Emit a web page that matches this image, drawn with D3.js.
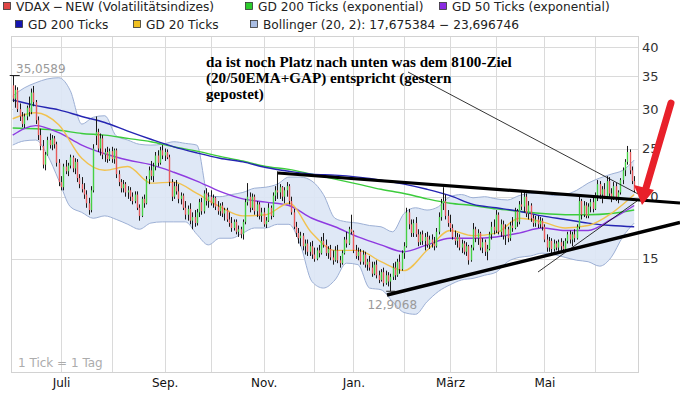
<!DOCTYPE html>
<html>
<head>
<meta charset="utf-8">
<script src="https://cdn.jsdelivr.net/npm/d3@7"></script>
<style>
body { margin: 0; background: #fff; }
svg { display: block; }
</style>
</head>
<body>
<svg width="680" height="398"></svg>
<script>
// daily candles, one row per trading day: [open, high, low, close]
var jun12 = [[33.5,35.06,31.0,31.5],[31.5,33.5,30.2,32.8],[32.8,33.2,29.6,30.0],[30.0,30.8,28.4,29.0],[29.0,29.6,27.6,28.0],
    [28.0,29.4,27.5,29.0],[29.0,30.5,28.5,30.2],[30.2,31.8,29.0,29.6],[29.6,33.0,29.3,32.4],[32.4,33.4,30.4,31.0],
    [31.0,31.3,28.0,28.5],[28.5,29.0,26.0,26.6],[26.6,27.4,24.8,25.3],[25.3,26.0,22.8,23.2],[23.2,24.6,22.6,24.3],
    [24.3,26.4,24.2,26.0],[26.0,26.8,25.0,25.4],[25.4,26.6,24.8,26.2],[26.2,26.5,25.0,25.5],[25.5,25.8,23.0,23.4],
    [23.4,23.8,21.0,21.4]]
var jul12 = [[21.4,22.0,20.6,20.9],[20.9,23.3,20.6,23.0],[23.0,23.7,22.2,22.5],[22.5,23.4,22.0,23.1],[23.1,24.3,22.8,24.0],
    [24.0,24.2,22.4,22.8],[22.8,23.9,22.2,23.5],[23.5,23.8,21.4,21.8],[21.8,22.2,20.8,21.2],[21.2,21.9,20.4,20.7],
    [20.7,21.3,19.8,20.2],[20.2,20.6,19.0,19.4],[19.4,19.9,18.4,18.8],[18.8,21.0,18.6,20.6],[20.6,25.5,20.4,25.0],
    [26.5,29.0,25.4,27.0],[27.0,27.4,24.6,25.0],[25.0,26.8,24.2,26.2],[26.2,26.6,23.8,24.3],[24.3,25.0,23.5,24.6],
    [24.6,25.2,23.4,23.8],[23.8,25.0,23.6,24.7]]
var aug12 = [[24.7,25.2,23.4,23.8],[23.8,25.0,23.3,24.8],[24.8,25.0,21.8,22.2],[22.2,22.6,21.0,21.4],[21.4,21.7,20.4,20.8],
    [20.8,21.6,20.4,21.2],[21.2,21.4,20.0,20.4],[20.4,21.0,19.8,20.6],[20.6,20.9,19.6,20.0],[20.0,20.4,19.3,19.6],
    [19.6,20.5,19.4,20.2],[20.2,20.5,18.8,19.0],[19.0,19.3,17.9,18.3],[18.3,20.0,18.2,19.8],[19.8,20.2,19.0,19.4],
    [19.4,22.0,19.3,21.7],[21.7,23.0,21.2,22.6],[22.6,23.6,21.6,22.0],[22.0,23.4,21.4,23.0],[23.0,24.6,22.6,24.2],
    [24.2,24.8,23.0,23.4],[23.4,25.2,23.2,24.8],[24.8,25.4,23.8,24.2]]
var sep12 = [[24.2,25.0,23.6,24.6],[24.6,24.9,23.8,24.0],[24.0,24.3,21.0,21.4],[21.4,21.7,19.6,20.0],[20.0,21.4,19.8,21.0],
    [21.0,21.6,20.2,20.5],[20.5,21.2,19.4,19.8],[19.8,20.4,19.3,20.1],[20.1,20.3,18.8,19.0],[19.0,19.6,18.0,18.4],
    [18.4,19.2,17.9,18.9],[18.9,19.4,17.6,17.9],[17.9,18.6,17.2,18.2],[18.2,18.8,17.4,17.7],[17.7,18.9,17.5,18.6],
    [18.6,19.8,18.2,19.5],[19.5,19.9,18.4,18.7],[18.7,20.6,18.5,20.3],[20.3,20.8,19.2,19.6],[19.6,20.4,19.0,20.0]]
var oct12 = [[20.0,20.6,19.2,19.4],[19.4,20.2,19.0,19.9],[19.9,20.0,18.8,19.1],[19.1,19.6,18.4,18.7],[18.7,19.4,18.3,19.2],
    [19.2,19.5,18.2,18.5],[18.5,19.0,17.9,18.8],[18.8,19.0,17.8,18.0],[18.0,18.6,17.4,17.7],[17.7,18.2,17.0,17.3],
    [17.3,18.0,17.1,17.8],[17.8,18.0,16.8,17.0],[17.0,17.5,16.6,17.2],[17.2,17.4,16.5,16.8],[16.8,18.0,16.4,17.8],
    [17.8,19.8,17.6,19.5],[19.5,21.3,19.2,20.0],[20.0,20.4,18.6,19.0],[19.0,20.3,18.8,20.0],[20.0,20.2,18.4,18.7],
    [18.7,19.6,18.2,19.3],[19.3,19.5,18.0,18.3],[18.3,19.0,17.8,18.6]]
var nov12 = [[18.6,19.0,17.4,17.6],[17.6,18.2,17.3,17.9],[17.9,19.4,17.8,19.0],[19.0,19.2,18.0,18.3],[18.3,20.4,18.2,20.1],
    [20.1,21.0,19.6,20.6],[20.6,22.5,19.8,20.4],[20.4,21.2,19.8,20.9],[20.9,21.0,19.6,20.0],[20.0,20.9,19.4,20.6],
    [20.6,21.4,20.0,21.0],[21.0,21.2,19.3,19.6],[19.6,20.0,18.4,18.6],[18.6,18.9,17.2,17.4],[17.4,17.8,16.6,16.9],
    [16.9,17.3,16.1,16.5],[16.5,17.0,15.9,16.7],[16.7,16.9,15.6,15.9],[15.9,16.4,15.3,16.1],[16.1,16.4,15.2,15.5],
    [15.5,16.2,15.2,15.9],[15.9,16.3,15.0,15.3]]
var dec12 = [[15.3,15.8,14.8,15.0],[15.0,15.8,14.9,15.6],[15.6,16.0,15.1,15.4],[15.4,16.6,15.3,16.3],[16.3,16.9,15.8,16.0],
    [16.0,16.4,15.2,15.4],[15.4,15.9,15.0,15.7],[15.7,16.0,14.9,15.1],[15.1,15.6,14.6,14.9],[14.9,15.9,14.8,15.6],
    [15.6,16.0,14.7,14.9],[14.9,15.2,14.4,14.7],[14.7,15.6,14.6,15.4],[15.4,16.6,15.3,16.4],[16.4,17.0,15.8,16.1],
    [16.1,17.4,16.0,17.2],[17.2,18.4,16.8,17.0]]
var jan13 = [[17.0,17.1,15.4,15.6],[15.6,16.0,15.0,15.2],[15.2,15.8,14.9,15.5],[15.5,15.7,14.6,14.8],[14.8,15.6,14.6,15.3],
    [15.3,15.5,14.4,14.6],[14.6,15.0,14.2,14.8],[14.8,15.2,14.2,14.4],[14.4,14.8,13.8,14.0],[14.0,14.8,13.9,14.6],
    [14.6,14.9,13.7,13.9],[13.9,14.2,13.4,13.6],[13.6,14.3,13.5,14.1],[14.1,14.4,13.2,13.4],[13.4,14.2,13.3,13.9],
    [13.9,14.1,13.2,13.5],[13.5,14.0,12.9068,13.8],[13.8,14.7,13.6,14.4],[14.4,14.8,13.6,13.9],[13.9,15.0,13.8,14.8],
    [14.8,15.3,14.0,14.3],[14.3,15.6,14.2,15.4]]
var feb13 = [[15.4,16.2,15.0,15.9],[15.9,19.0,15.8,18.6],[18.6,18.9,17.2,17.6],[17.6,18.0,16.6,16.9],[16.9,18.0,16.6,17.7],
    [17.7,18.2,16.6,16.8],[16.8,17.2,15.9,16.2],[16.2,17.0,16.0,16.8],[16.8,17.1,16.0,16.3],[16.3,16.9,15.6,16.6],
    [16.6,17.0,15.8,16.0],[16.0,16.7,15.7,16.4],[16.4,16.8,15.8,16.1],[16.1,16.6,15.6,15.9],[15.9,17.3,15.8,17.0],
    [17.0,18.6,16.8,18.2],[18.2,19.8,17.9,19.4],[19.4,20.9,18.8,19.6],[19.6,20.2,18.0,18.3],[18.3,18.8,17.4,17.7]]
var mar13 = [[17.7,18.4,17.0,17.3],[17.3,17.6,16.4,16.6],[16.6,17.1,16.0,16.3],[16.3,16.9,15.8,16.6],[16.6,16.8,15.6,15.8],
    [15.8,16.4,15.4,16.1],[16.1,16.3,15.3,15.5],[15.5,16.2,15.2,15.9],[15.9,16.0,14.6,14.9],[14.9,16.0,14.8,15.8],
    [15.8,17.7,15.6,17.2],[17.2,17.4,16.2,16.5],[16.5,17.2,16.0,16.9],[16.9,17.0,15.6,15.8],[15.8,16.5,15.4,16.2],
    [16.2,16.4,15.2,15.5],[15.5,16.0,14.9,15.7],[15.7,17.0,15.6,16.8],[16.8,17.8,16.4,17.4],[17.4,18.0,16.8,17.1]]
var apr13 = [[17.1,18.8,16.9,18.4],[18.4,18.6,16.8,17.0],[17.0,18.0,16.6,17.6],[17.6,17.9,16.4,16.7],[16.7,17.6,16.0,17.2],
    [17.2,17.4,16.2,16.5],[16.5,17.8,16.3,17.5],[17.5,18.2,17.0,17.3],[17.3,19.0,17.2,18.7],[18.7,18.9,17.4,17.8],
    [17.8,19.6,17.6,19.3],[19.3,20.6,18.8,19.1],[19.1,20.4,18.6,20.0],[20.0,20.3,18.2,18.5],[18.5,19.6,18.0,19.2],
    [19.2,19.4,17.8,18.1],[18.1,18.4,17.4,17.7],[17.7,18.3,17.4,18.0],[18.0,18.3,17.3,17.6],[17.6,18.2,17.3,17.9],
    [17.9,18.1,17.1,17.4]]
var may13 = [[17.4,17.6,16.2,16.4],[16.4,16.8,15.5,15.8],[15.8,16.6,15.5,16.3],[16.3,16.5,15.4,15.7],[15.7,16.4,15.5,16.1],
    [16.1,16.3,15.6,15.8],[15.8,16.4,15.5,16.2],[16.2,16.5,15.6,15.9],[15.9,16.3,15.5,15.7],[15.7,16.5,15.6,16.3],
    [16.3,17.0,16.1,16.8],[16.8,17.1,16.1,16.4],[16.4,17.0,15.9,16.8],[16.8,17.2,16.2,16.5],[16.5,17.6,16.4,17.4],
    [17.4,20.0,17.2,19.6],[19.6,19.8,18.0,18.4],[18.4,19.6,18.2,19.2],[19.2,19.5,18.1,18.3],[18.3,19.4,18.1,19.1],
    [19.1,19.8,18.6,19.5],[19.5,20.0,18.6,18.9]]
var jun13 = [[18.9,20.4,18.8,20.1],[20.1,21.6,19.6,21.2],[21.2,21.5,19.8,20.2],[20.2,21.0,19.4,20.7],[20.7,21.3,19.8,20.0],
    [20.0,22.0,19.8,21.5],[21.5,21.9,20.0,20.3],[20.3,20.8,19.5,19.8],[19.8,21.4,19.7,21.0],[21.0,21.3,19.6,19.9],
    [19.9,20.6,19.4,20.4],[20.4,21.8,20.2,21.6],[21.6,22.9,21.2,22.6],[22.6,23.8,22.0,23.5],[23.5,25.3,23.2,24.6],
    [24.6,24.9,22.2,22.6],[22.6,23.0,21.2,21.5],[21.5,22.0,20.4,20.6]]

// trading-day index of the first day of each month (Jul 2012 .. Jun 2013)
var monthStart = [21, 43, 66, 86, 109, 131, 148, 170, 190, 210, 231, 253]
var monthLabelIdx = [21, 66, 109, 148, 190, 231]
var monthLabels = ['Juli', 'Sep.', 'Nov.', 'Jan.', 'März', 'Mai']
var yTicks = [15, 20, 25, 30, 35, 40]

// indicator lines, read every 10 trading days
var lineIdx = [0,10,20,30,40,50,60,70,80,90,100,110,120,130,140,150,160,170,180,190,200,210,220,230,240,250,260,270]
var gd200 = [31.3,30.5,29.9,29.0,28.2,27.1,26.1,25.2,24.5,23.9,23.5,22.9,22.5,22.2,22.1,21.9,21.6,21.2,20.7,20.1,19.3,19.0,18.7,18.3,18.0,17.7,17.5,17.4]
var gd200exp = [27.5,27.4,27.2,26.8,26.6,26.2,25.8,25.2,24.7,24.1,23.6,23.0,22.7,22.2,21.7,21.2,20.7,20.3,19.8,19.4,19.2,18.9,18.7,18.5,18.4,18.4,18.5,18.8]
var gd50exp = [26.6,27.8,26.9,25.4,24.4,23.7,23.2,22.4,21.5,20.5,19.8,19.5,19.2,18.1,17.4,16.6,16.0,15.5,16.0,16.5,16.5,16.6,16.9,17.3,17.1,17.1,18.0,19.2]
var gd20 = [28.7,29.5,27.9,23.9,22.6,23.0,21.3,21.4,20.3,19.1,18.3,18.4,19.4,16.9,15.6,15.6,14.8,14.2,15.6,17.1,16.7,16.9,18.1,17.8,17.3,17.5,18.5,20.2]

// bollinger band, read every 5 trading days
var bandIdx = [0,5,10,15,20,25,30,35,40,45,50,55,60,65,70,75,80,85,90,95,100,105,110,115,120,125,130,135,140,145,
    150,155,160,165,170,175,180,185,190,195,200,205,210,215,220,225,230,235,240,245,250,255,260,265,270]
var bbUpper = [31.9,33.1,33.9,34.5,34.7,32.7,28.0,28.9,29.1,26.5,26.0,25.5,25.4,25.5,25.8,25.6,25.4,20.1,20.0,20.2,
    20.4,20.8,20.9,21.2,21.9,21.9,21.5,20.2,18.1,17.8,17.7,17.5,17.4,17.0,18.5,19.0,18.8,19.1,20.0,20.2,
    19.9,20.0,19.8,19.7,20.1,20.3,20.3,20.1,20.2,20.6,21.3,21.8,22.2,22.6,23.7]
var bbLower = [25.4,25.9,26.0,24.3,21.6,19.1,18.6,18.1,18.3,18.0,17.6,17.2,17.7,17.8,17.8,17.8,16.8,16.0,16.5,16.5,
    16.9,17.3,17.3,17.6,17.6,16.0,13.5,13.1,13.6,14.7,14.6,13.1,13.0,12.3,11.7,11.6,12.3,12.9,13.3,13.6,
    13.7,13.9,14.1,14.8,15.1,15.2,15.4,15.3,15.1,14.9,14.8,14.5,15.1,16.6,17.7]

var candles = [].concat(jun12, jul12, aug12, sep12, oct12, nov12, dec12, jan13, feb13, mar13, apr13, may13, jun13)
    .map(function(d, i) { return {i: i, o: d[0], h: d[1], l: d[2], c: d[3]} })

var svg = d3.select('svg')
var sans = '"DejaVu Sans", Verdana, sans-serif'

var x = d3.scaleLinear().domain([0, 270]).range([12.7, 634.2])
var y = d3.scaleLog().domain([8.88, 42.1]).range([372, 36])

svg.append('rect').attr('width', 680).attr('height', 398).attr('fill', '#fff')

//grid
var grid = svg.append('g').attr('stroke', '#dadada').attr('stroke-width', 1)
grid.selectAll('.vg').data(monthStart).enter().append('line')
    .attr('x1', d => Math.round(x(d)) + 0.5).attr('x2', d => Math.round(x(d)) + 0.5)
    .attr('y1', 36).attr('y2', 372)
grid.selectAll('.hg').data(yTicks).enter().append('line')
    .attr('x1', 11).attr('x2', 638)
    .attr('y1', d => Math.round(y(d)) + 0.5).attr('y2', d => Math.round(y(d)) + 0.5)
svg.append('rect').attr('x', 11.5).attr('y', 36.5).attr('width', 627).attr('height', 336)
    .attr('fill', 'none').attr('stroke', '#d2d2d2')

//bollinger band
var band = bandIdx.map((d, k) => ({i: d, u: bbUpper[k], lo: bbLower[k]}))
svg.append('path').datum(band)
    .attr('d', d3.area().x(d => x(d.i)).y0(d => y(d.lo)).y1(d => y(d.u)).curve(d3.curveMonotoneX))
    .attr('fill', '#dce6f5').attr('fill-opacity', 0.9)
;['u', 'lo'].forEach(function(k) {
    svg.append('path').datum(band)
        .attr('d', d3.line().x(d => x(d.i)).y(d => y(d[k])).curve(d3.curveMonotoneX))
        .attr('fill', 'none').attr('stroke', '#9db0d5').attr('stroke-width', 1)
})

//moving averages
var series = [
    {v: gd200exp, color: '#3ccc3c'},
    {v: gd200, color: '#2525b2'},
    {v: gd50exp, color: '#8e3ae0'},
    {v: gd20, color: '#f1c24f'}
]
series.forEach(function(s) {
    svg.append('path').datum(lineIdx.map((d, k) => ({i: d, v: s.v[k]})))
        .attr('d', d3.line().x(d => x(d.i)).y(d => y(d.v)).curve(d3.curveMonotoneX))
        .attr('fill', 'none').attr('stroke', s.color).attr('stroke-width', 1.4)
})

//candles
var cg = svg.append('g')
cg.selectAll('.wick').data(candles).enter().append('line')
    .attr('x1', d => Math.round(x(d.i)) + 0.5).attr('x2', d => Math.round(x(d.i)) + 0.5)
    .attr('y1', d => y(d.h)).attr('y2', d => y(d.l))
    .attr('stroke', '#1a1a1a').attr('stroke-width', 1)
cg.selectAll('.body').data(candles).enter().append('rect')
    .attr('x', d => Math.round(x(d.i)) - 0.2)
    .attr('width', 1.4)
    .attr('y', d => y(Math.max(d.o, d.c)))
    .attr('height', d => Math.max(1, Math.abs(y(d.o) - y(d.c))))
    .attr('fill', d => d.c >= d.o ? '#45d045' : '#e65a5a')

//high / low markers
var hi = candles[0], lo = candles[164]
svg.append('line').attr('x1', x(hi.i) - 3).attr('x2', x(hi.i) + 7)
    .attr('y1', y(hi.h)).attr('y2', y(hi.h)).attr('stroke', '#222').attr('stroke-width', 1)
svg.append('text').attr('x', 16).attr('y', y(hi.h) - 3)
    .style('font-family', sans).style('font-size', '12px').attr('fill', '#9a9a9a').text('35,0589')
svg.append('line').attr('x1', x(lo.i) - 4).attr('x2', x(lo.i) + 5)
    .attr('y1', y(lo.l)).attr('y2', y(lo.l)).attr('stroke', '#222').attr('stroke-width', 1)
svg.append('text').attr('x', x(lo.i) + 2).attr('y', y(lo.l) + 18).attr('text-anchor', 'middle')
    .style('font-family', sans).style('font-size', '12px').attr('fill', '#9a9a9a').text('12,9068')

svg.append('text').attr('x', 18).attr('y', 367)
    .style('font-family', sans).style('font-size', '12px').attr('fill', '#acacac').text('1 Tick = 1 Tag')

//axes
var ya = svg.append('g').attr('transform', 'translate(638,0)')
    .call(d3.axisRight(y).tickValues(yTicks).tickSize(0).tickPadding(4).tickFormat(d3.format('d')))
ya.select('.domain').remove()
ya.selectAll('text').style('font-family', sans).style('font-size', '13px').attr('fill', '#333')

var xa = svg.append('g').attr('transform', 'translate(0,372)')
    .call(d3.axisBottom(x).tickValues(monthLabelIdx).tickSize(0).tickPadding(6)
        .tickFormat((d, k) => monthLabels[k]))
xa.select('.domain').remove()
xa.selectAll('text').style('font-family', sans).style('font-size', '12px').attr('fill', '#111')

//legend
var legend = [
    {x: 3, y: 2, color: '#e04545', text: 'VDAX\u2009\u2212\u2009NEW (Volatilitätsindizes)'},
    {x: 245, y: 2, color: '#2ccc2c', text: 'GD 200 Ticks (exponential)'},
    {x: 439, y: 2, color: '#8a2be2', text: 'GD 50 Ticks (exponential)'},
    {x: 15, y: 20, color: '#1515b0', text: 'GD 200 Ticks'},
    {x: 133, y: 20, color: '#f0c020', text: 'GD 20 Ticks'},
    {x: 250, y: 20, color: '#a9bde3', text: 'Bollinger (20, 2): 17,675384 \u2212 23,696746'}
]
var lg = svg.append('g').selectAll('g').data(legend).enter().append('g')
lg.append('rect').attr('x', d => d.x + 0.5).attr('y', d => d.y + 0.5).attr('width', 7).attr('height', 7)
    .attr('fill', d => d.color).attr('stroke', '#333').attr('stroke-width', 0.8)
lg.append('text').attr('x', d => d.x + 13).attr('y', d => d.y + 8.5)
    .style('font-family', sans).style('font-size', '12.2px').attr('fill', '#222').text(d => d.text)

//drawn annotations
var ann = svg.append('g')
ann.append('line').attr('x1', 408).attr('y1', 72).attr('x2', 640).attr('y2', 195)
    .attr('stroke', '#000').attr('stroke-width', 0.8)
ann.append('line').attr('x1', 538).attr('y1', 272).attr('x2', 637).attr('y2', 201)
    .attr('stroke', '#000').attr('stroke-width', 0.8)
ann.append('line').attr('x1', 278).attr('y1', 173).attr('x2', 680).attr('y2', 203)
    .attr('stroke', '#000').attr('stroke-width', 3.2)
ann.append('line').attr('x1', 387).attr('y1', 295).attr('x2', 680).attr('y2', 222.5)
    .attr('stroke', '#000').attr('stroke-width', 3.4)
ann.append('line').attr('x1', 671).attr('y1', 103).attr('x2', 646).attr('y2', 188)
    .attr('stroke', '#e8202a').attr('stroke-width', 7).attr('stroke-linecap', 'round')
ann.append('path').attr('d', 'M634,185 L654,190 L642,205 Z').attr('fill', '#e8202a')

var noteLines = ['da ist noch Platz nach unten was dem 8100-Ziel', '(20/50EMA+GAP) entspricht (gestern', 'gepostet)']
var note = svg.append('text')
    .style('font-family', '"Liberation Serif", "Times New Roman", serif')
    .style('font-weight', 'bold').style('font-size', '15.5px').attr('fill', '#000')
noteLines.forEach(function(t, k) {
    note.append('tspan').attr('x', 206).attr('y', 67 + 16 * k).text(t)
})
var w = note.select('tspan').node().getComputedTextLength()
note.attr('transform', 'translate(206,0) scale(' + (306 / w).toFixed(4) + ',1) translate(-206,0)')
</script>
</body>
</html>
